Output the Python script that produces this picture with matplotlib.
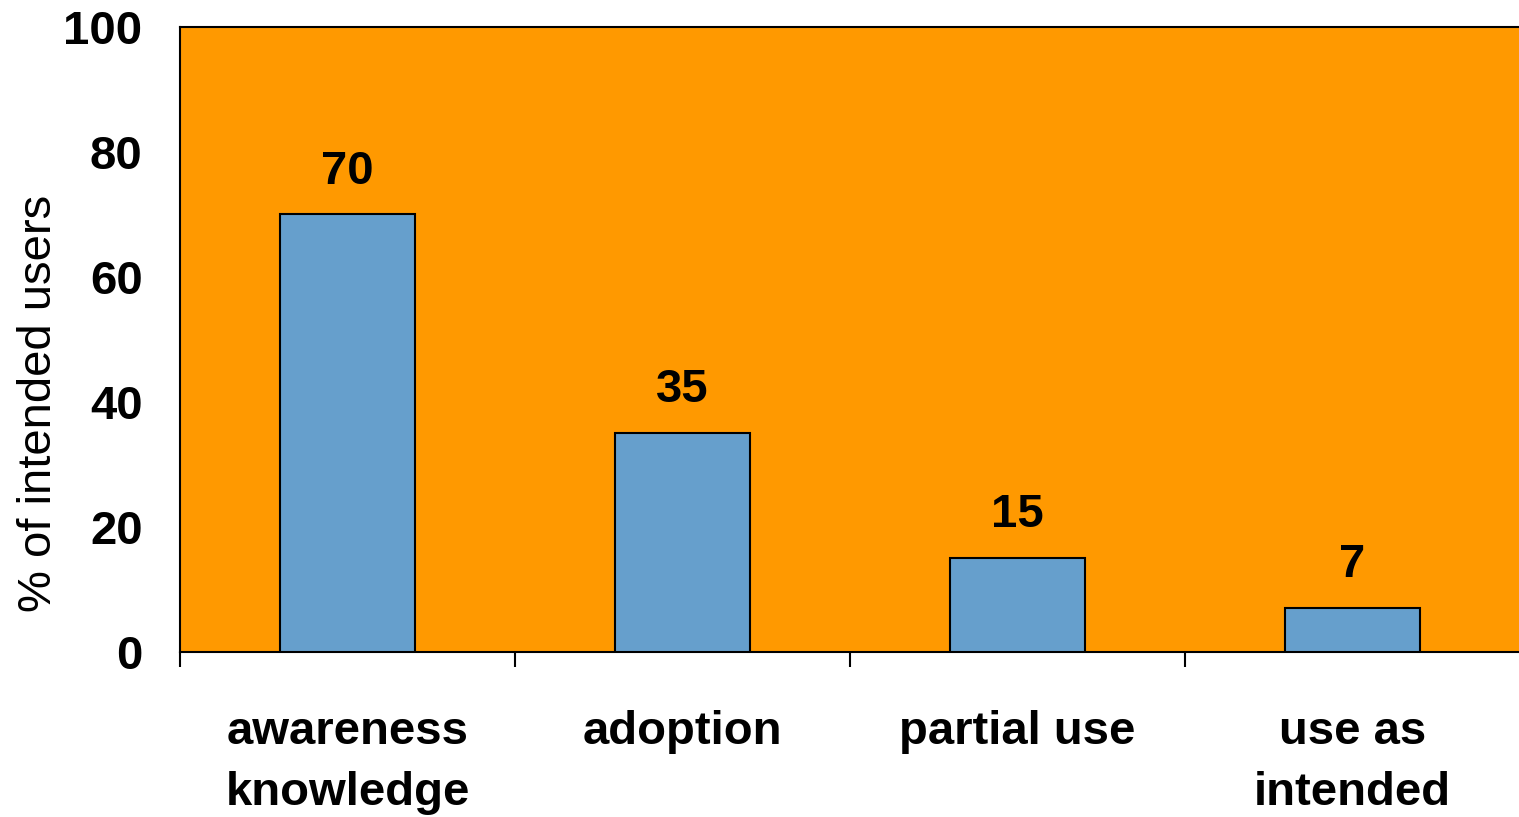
import numpy as np
import matplotlib.pyplot as plt

# stages of use and share of intended users reaching each one
stages = ['awareness\nknowledge', 'adoption', 'partial use', 'use as\nintended']
percent = [70, 35, 15, 7]
y_ticks = [0, 20, 40, 60, 80, 100]

plt.rcParams['font.family'] = ['Liberation Sans', 'DejaVu Sans']

fig = plt.figure(figsize=(15.19, 8.17), dpi=100)
ax = fig.add_axes([0.1185, 0.202, 0.8822, 0.765])
ax.set_facecolor('#FF9900')

x = np.arange(len(stages))
bars = ax.bar(x, percent, width=0.405, color='#669FCC',
              edgecolor='black', linewidth=1.5, zorder=3)

for xi, v in zip(x, percent):
    ax.annotate(str(v), (xi, v), xytext=(0, 15), textcoords='offset points',
                ha='center', va='bottom', fontsize=34, fontweight='bold')

ax.set_xlim(-0.5, len(stages) - 0.5)
ax.set_ylim(0, 100)

# ticks sit on the category boundaries, labels in the middle
ax.set_xticks(np.arange(-0.5, len(stages) - 1, 1.0))
ax.set_xticklabels([])
ax.tick_params(axis='x', which='major', direction='out', length=11, width=1.5)
ax.set_xticks(x, minor=True)
ax.set_xticklabels(stages, minor=True, fontsize=34, fontweight='bold',
                   linespacing=1.48)
ax.tick_params(axis='x', which='minor', length=0, pad=42)

ax.set_yticks(y_ticks)
ax.set_yticklabels([str(t) for t in y_ticks], fontsize=34, fontweight='bold')
ax.tick_params(axis='y', length=0, pad=27)
ax.set_ylabel('% of intended users', fontsize=34)
ax.yaxis.set_label_coords(-0.105, 0.398)
ax.yaxis.label.set_verticalalignment('center')

for side in ['left', 'top', 'bottom']:
    ax.spines[side].set_linewidth(1.5)
ax.spines['right'].set_visible(False)

fig.savefig('out.png', dpi=100)
